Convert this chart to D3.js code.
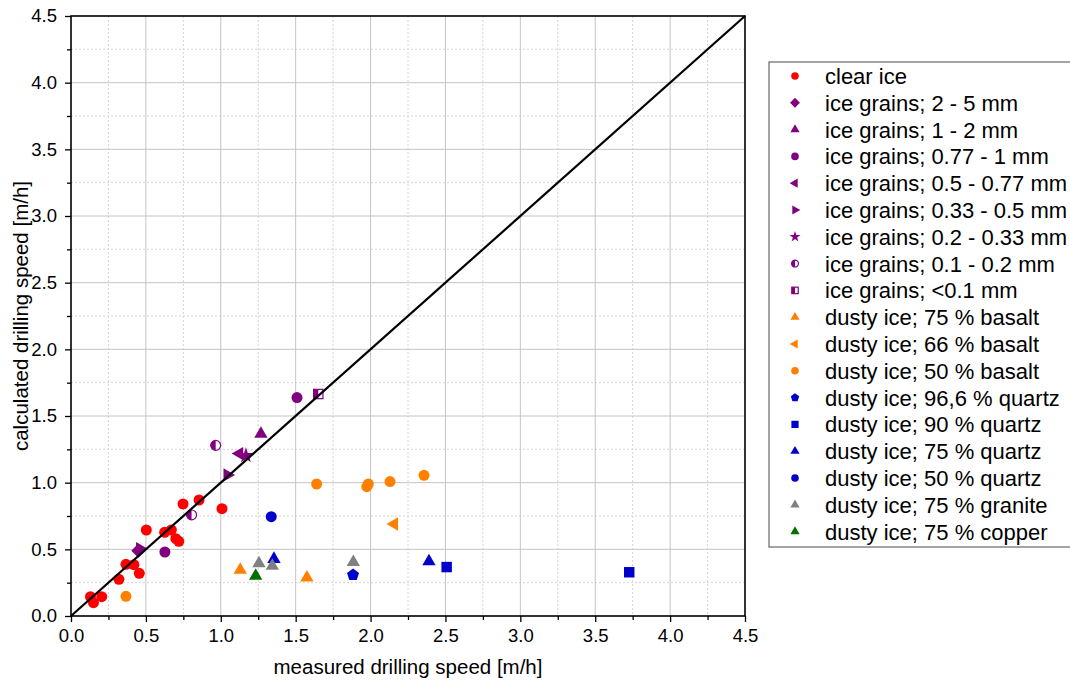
<!DOCTYPE html>
<html>
<head>
<meta charset="utf-8">
<script src="https://cdn.jsdelivr.net/npm/d3@7"></script>
<style>
  body { margin: 0; background: #fff; }
  text { font-family: "Liberation Sans", Arial, sans-serif; fill: #000; }
</style>
</head>
<body>
<svg id="chart" width="1070" height="686"></svg>
<script>
//* ------------------------------ DATA ---------------------------------------- //
// [measured, calculated] drilling speed in m/h
const clearIce = [[0.13, 0.145], [0.15, 0.10], [0.205, 0.145], [0.32, 0.275], [0.367, 0.388],
  [0.42, 0.385], [0.456, 0.32], [0.503, 0.645], [0.625, 0.628], [0.67, 0.645], [0.70, 0.58],
  [0.72, 0.56], [0.748, 0.84], [0.855, 0.87], [1.008, 0.805]];
const grains2to5 = [[0.45, 0.49]];
const grains1to2 = [[1.268, 1.365]];
const grains077to1 = [[1.509, 1.638], [0.627, 0.48]];
const grains05to077 = [[1.124, 1.218]];
const grains033to05 = [[1.044, 1.058], [0.46, 0.505]];
const grains02to033 = [[1.168, 1.203]];
const grains01to02 = [[0.966, 1.28], [0.805, 0.758]];
const grainsBelow01 = [[1.651, 1.665]];
const basalt75 = [[1.13, 0.345], [1.575, 0.287]];
const basalt66 = [[2.158, 0.69]];
const basalt50 = [[0.367, 0.148], [1.64, 0.99], [1.975, 0.97], [1.985, 0.99], [2.13, 1.008], [2.357, 1.055]];
const quartz966 = [[1.883, 0.308]];
const quartz90 = [[2.508, 0.367], [3.727, 0.328]];
const quartz75 = [[1.355, 0.427], [2.39, 0.41]];
const quartz50 = [[1.337, 0.745]];
const granite75 = [[1.255, 0.395], [1.344, 0.375], [1.885, 0.403]];
const copper75 = [[1.233, 0.30]];

const seriesNames = ["clear ice", "ice grains; 2 - 5 mm", "ice grains; 1 - 2 mm", "ice grains; 0.77 - 1 mm",
  "ice grains; 0.5 - 0.77 mm", "ice grains; 0.33 - 0.5 mm", "ice grains; 0.2 - 0.33 mm",
  "ice grains; 0.1 - 0.2 mm", "ice grains; <0.1 mm", "dusty ice; 75 % basalt", "dusty ice; 66 % basalt",
  "dusty ice; 50 % basalt", "dusty ice; 96,6 % quartz", "dusty ice; 90 % quartz", "dusty ice; 75 % quartz",
  "dusty ice; 50 % quartz", "dusty ice; 75 % granite", "dusty ice; 75 % copper"];
const seriesData = [clearIce, grains2to5, grains1to2, grains077to1, grains05to077, grains033to05,
  grains02to033, grains01to02, grainsBelow01, basalt75, basalt66, basalt50, quartz966, quartz90,
  quartz75, quartz50, granite75, copper75];

const majorTicks = [0, 0.5, 1.0, 1.5, 2.0, 2.5, 3.0, 3.5, 4.0, 4.5];
const minorTicks = [0.25, 0.75, 1.25, 1.75, 2.25, 2.75, 3.25, 3.75, 4.25];
const xTitle = "measured drilling speed [m/h]";
const yTitle = "calculated drilling speed [m/h]";

//* ------------------------------ STYLE ---------------------------------------- //
const RED = "#ff0000", PURPLE = "#800080", ORANGE = "#ff8000", BLUE = "#0000cc",
  GREY = "#808080", GREEN = "#007000";
const seriesStyle = [
  {shape: "circle", color: RED}, {shape: "diamond", color: PURPLE}, {shape: "triUp", color: PURPLE},
  {shape: "circle", color: PURPLE}, {shape: "triLeft", color: PURPLE}, {shape: "triRight", color: PURPLE},
  {shape: "star", color: PURPLE}, {shape: "halfCircle", color: PURPLE}, {shape: "halfSquare", color: PURPLE},
  {shape: "triUp", color: ORANGE}, {shape: "triLeft", color: ORANGE}, {shape: "circle", color: ORANGE},
  {shape: "pentagon", color: BLUE}, {shape: "square", color: BLUE}, {shape: "triUp", color: BLUE},
  {shape: "circle", color: BLUE}, {shape: "triUp", color: GREY}, {shape: "triUp", color: GREEN}
];

const plot = {left: 71, right: 745, top: 16, bottom: 616};
const svg = d3.select("#chart");

const x = d3.scaleLinear().domain([0, 4.5]).range([plot.left, plot.right]);
const y = d3.scaleLinear().domain([0, 4.5]).range([plot.bottom, plot.top]);

//* ------------------------------ FUNCTIONS --------------------------------------- //
function polygon(R, startDeg, n) {
  const pts = d3.range(n).map(i => {
    const a = (startDeg + i * 360 / n) * Math.PI / 180;
    return [R * Math.cos(a), R * Math.sin(a)];
  });
  return "M" + pts.map(p => p.join(",")).join("L") + "Z";
}

function drawMarker(g, shape, color, s) {
  if (shape === "circle") {
    g.append("circle").attr("r", s).attr("fill", color);
  } else if (shape === "diamond") {
    g.append("path").attr("d", polygon(s * 1.3, -90, 4)).attr("fill", color);
  } else if (shape === "triUp") {
    g.append("path").attr("d", polygon(s * 1.4, -90, 3)).attr("fill", color);
  } else if (shape === "triLeft") {
    g.append("path").attr("d", polygon(s * 1.4, 180, 3)).attr("fill", color);
  } else if (shape === "triRight") {
    g.append("path").attr("d", polygon(s * 1.4, 0, 3)).attr("fill", color);
  } else if (shape === "star") {
    g.append("path").attr("d", d3.symbol(d3.symbolStar, s * s * 2.6)()).attr("fill", color);
  } else if (shape === "pentagon") {
    g.append("path").attr("d", polygon(s * 1.15, -90, 5)).attr("fill", color);
  } else if (shape === "square") {
    g.append("rect").attr("x", -s * 0.95).attr("y", -s * 0.95)
      .attr("width", s * 1.9).attr("height", s * 1.9).attr("fill", color);
  } else if (shape === "halfCircle") {
    const r = s * 0.9;
    g.append("circle").attr("r", r).attr("fill", "#fff").attr("stroke", color).attr("stroke-width", 1.2);
    g.append("path").attr("d", `M0,${-r}A${r},${r} 0 0 0 0,${r}Z`).attr("fill", color);
  } else if (shape === "halfSquare") {
    const h = s * 0.85;
    g.append("rect").attr("x", -h).attr("y", -h).attr("width", 2 * h).attr("height", 2 * h)
      .attr("fill", "#fff").attr("stroke", color).attr("stroke-width", 1.2);
    g.append("rect").attr("x", -h).attr("y", -h).attr("width", h).attr("height", 2 * h).attr("fill", color);
  }
}

// grid
const grid = svg.append("g");
grid.selectAll(".minx").data(minorTicks).join("line")
  .attr("x1", d => x(d)).attr("x2", d => x(d)).attr("y1", plot.top).attr("y2", plot.bottom)
  .attr("stroke", "#d4d4d4").attr("stroke-dasharray", "2,2");
grid.selectAll(".miny").data(minorTicks).join("line")
  .attr("y1", d => y(d)).attr("y2", d => y(d)).attr("x1", plot.left).attr("x2", plot.right)
  .attr("stroke", "#d4d4d4").attr("stroke-dasharray", "2,2");
const inner = majorTicks.slice(1, -1);
grid.selectAll(".majx").data(inner).join("line")
  .attr("x1", d => x(d)).attr("x2", d => x(d)).attr("y1", plot.top).attr("y2", plot.bottom)
  .attr("stroke", "#c4c4c4");
grid.selectAll(".majy").data(inner).join("line")
  .attr("y1", d => y(d)).attr("y2", d => y(d)).attr("x1", plot.left).attr("x2", plot.right)
  .attr("stroke", "#c4c4c4");

// markers
const marks = svg.append("g");
seriesData.forEach((data, i) => {
  const st = seriesStyle[i];
  data.forEach(p => {
    const g = marks.append("g").attr("transform", `translate(${x(p[0])},${y(p[1])})`);
    drawMarker(g, st.shape, st.color, 5.5);
  });
});

// 1:1 line
svg.append("line")
  .attr("x1", x(0)).attr("y1", y(0)).attr("x2", x(4.5)).attr("y2", y(4.5))
  .attr("stroke", "#000").attr("stroke-width", 2.2);

// axes
const fmt = d3.format(".1f");
svg.append("g").attr("transform", `translate(0,${plot.bottom})`)
  .call(d3.axisBottom(x).tickValues(majorTicks).tickFormat(fmt).tickSize(6).tickSizeOuter(0).tickPadding(7));
svg.append("g").attr("transform", `translate(0,${plot.bottom})`)
  .call(d3.axisBottom(x).tickValues(minorTicks).tickFormat("").tickSize(4).tickSizeOuter(0));
svg.append("g").attr("transform", `translate(${plot.left},0)`)
  .call(d3.axisLeft(y).tickValues(majorTicks).tickFormat(fmt).tickSize(6).tickSizeOuter(0).tickPadding(8));
svg.append("g").attr("transform", `translate(${plot.left},0)`)
  .call(d3.axisLeft(y).tickValues(minorTicks).tickFormat("").tickSize(4).tickSizeOuter(0));
svg.selectAll(".tick text").attr("font-size", 18.5).attr("font-family", '"Liberation Sans", Arial, sans-serif');
svg.selectAll(".domain").remove();
svg.selectAll(".tick line").attr("stroke", "#000").attr("stroke-width", 1.3);

// frame
svg.append("rect").attr("x", plot.left).attr("y", plot.top)
  .attr("width", plot.right - plot.left).attr("height", plot.bottom - plot.top)
  .attr("fill", "none").attr("stroke", "#000").attr("stroke-width", 1.6);

// titles
svg.append("text").attr("x", (plot.left + plot.right) / 2).attr("y", 674)
  .attr("text-anchor", "middle").attr("font-size", 20.5).text(xTitle);
svg.append("text").attr("transform", `translate(28,${(plot.top + plot.bottom) / 2}) rotate(-90)`)
  .attr("text-anchor", "middle").attr("font-size", 20.5).text(yTitle);

// legend
const legend = svg.append("g");
legend.append("rect").attr("x", 769).attr("y", 62).attr("width", 320).attr("height", 485)
  .attr("fill", "#fff").attr("stroke", "#666").attr("stroke-width", 1.2);
seriesNames.forEach((name, i) => {
  const cy = 76 + i * 26.8;
  const g = legend.append("g").attr("transform", `translate(795,${cy})`);
  drawMarker(g, seriesStyle[i].shape, seriesStyle[i].color, 3.8);
  legend.append("text").attr("x", 825).attr("y", cy).attr("dy", "0.36em")
    .attr("font-size", 22).text(name);
});
</script>
</body>
</html>
